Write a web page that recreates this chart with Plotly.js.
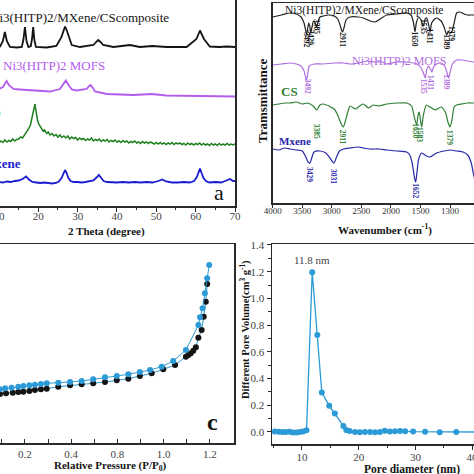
<!DOCTYPE html>
<html><head><meta charset="utf-8">
<script src="https://cdn.plot.ly/plotly-3.0.1.min.js"></script>
<style>
html,body{margin:0;padding:0;width:474px;height:474px;overflow:hidden;background:#fff;}
#chart{position:absolute;left:-40px;top:-20px;width:560px;height:500px;}
</style></head><body><div id="chart"></div>
<script>
// ---------- (a) XRD ----------
const xrdCompTheta = [5,7,9,10.3,11,11.5,12,12.8,14.5,15.8,16.2,16.6,17.0,17.5,18.1,18.4,18.7,19.0,19.4,22.1,24.6,25.9,26.4,26.8,27.2,27.6,28.5,30.6,34.0,34.7,35.2,35.8,36.5,39.1,43.3,45.8,49,52.6,57.7,60.2,61.1,62.1,63.6,66,68,70];
const xrdComp      = [160,160,159,159.5,165,174,165,159,158.5,159,166,179,165,159,160,167,179,166,159,158.5,160,169,175,179.5,176,171,161,159,161,164,166,164,161,159,161,159,160,159,159,167,175.5,167,159.5,159,159.5,159];
const xrdMofTheta = [5,8,10,11,11.5,11.95,12.5,13.65,15.3,18.7,23.0,25.5,26.3,27.0,27.7,28.5,29.75,32.3,32.8,33.3,33.9,34.4,37.4,44.2,48.8,52.6,61.1,69.6,70];
const xrdMof      = [117,117,117,119,123,125,121,117,116.5,115.5,114.5,117,121,125.5,121,116.5,115.5,117,119.5,121,118,114.5,112,111,112,110.5,110,109.5,109.5];
const xrdCsTheta = [5,5.5,6,6.5,7,7.5,8,8.5,9,9.5,10,10.5,11,11.5,12,12.5,13,13.5,14,14.5,15,15.5,16,16.5,17,17.5,18,18.3,18.6,18.9,19.15,19.4,19.6,19.8,20.1,20.5,20.85,21.2,21.6,22.1,22.5,23,23.5,24,24.5,25,25.5,26,26.5,27,27.5,28,28.5,29,29.5,30,30.5,31,31.5,32,32.5,33,33.5,34,34.5,35,35.5,36,36.5,37,37.5,38,38.5,39,39.5,40,40.5,41,41.5,42,42.5,43,43.5,44,44.5,45,45.5,46,46.5,47,47.5,48,48.5,49,49.5,50,50.5,51,51.5,52,52.5,53,53.5,54,54.5,55,55.5,56,56.5,57,57.5,58,58.5,59,59.5,60,60.5,61,61.5,62,62.5,63,63.5,64,64.5,65,65.5,66,66.5,67,67.5,68,68.5,69,69.5,70];
const xrdCs      = [63,65,62,64,61.5,64.5,63,65.5,62.5,64,63,65,63.5,66,64,65.5,64.5,67,65,66.5,67,69,68,71,73,77,81,86,91,97,102,95,89,86,82,79,77,75,76,72.5,74,71,72.5,70,71.5,69,71,68.5,70,68,70,67,69,67.5,68.5,66,68,66.5,67.5,65.5,67,66,68,65,66.5,65.5,67,64.5,66,65,66.5,64,65.5,64.5,66,64,65,63.5,65.5,64,65,63,64.5,63.5,65,63,64,62.5,64.5,63,64,62.5,64,63,62,63.5,62,63.5,62,63,61.5,63,62,63.5,61.5,63,62,63,61.5,62.5,61,63,61.5,62.5,61,62.5,61.5,63,61,62.5,61,62,60.5,62.5,61,62,60.5,62.5,61,62,61,62.5,61,62,61,62];
const xrdMxTheta = [5,6,7,8,9,10,11,12,13,14,15,16,16.9,17.6,18.5,19.5,20.5,21.5,22.5,23.5,24.5,25.2,25.9,26.4,26.8,27.2,27.6,28.2,29,30,31,32,33,34,34.8,35.4,36,36.6,37.5,38.5,40,41.5,43,44.5,46,47.5,49,50.5,51.5,52.5,54,55.5,57,58.5,59.6,60.3,60.7,61.1,61.5,62,62.6,63.5,65,66.5,67.5,68.7,69.5,70];
const xrdMx      = [24,23.5,24.5,24,23,24,23.5,24.5,24,25,25.5,27,29.5,26.5,24,23.5,23,23.5,23,22.5,23,24.5,28,33,36,33,28.5,25,24,24,23.5,24,24.5,25.5,28.5,31,28,25,24,23.5,23.5,24,23.5,24,23.5,24,23.5,25,26.5,24.5,23.5,23.5,24,23.5,25,29,34,37.5,33,28,25,23.5,24,23.5,25,27,25,25];

// ---------- (b) FTIR (x in axis units of the printed wavenumber scale) ----------
const ftirCompX = [4000,3850,3707,3600,3520,3470,3440,3425,3405,3390,3370,3357,3335,3310,3280,3256,3230,3200,3144,3050,2960,2900,2860,2830,2816,2790,2760,2692,2550,2467,2350,2269,2180,2071,1900,1733,1660,1620,1592,1570,1530,1490,1452,1420,1395,1360,1338,1310,1260,1225,1150,1100,1056,1030,1010,971,930,887,831,760,700,606,500,300,0];
const ftirComp  = [186,188,190,189,186,180,172,168,176,180,176,170,176,182,180,176,182,186,187,188,187,184,178,172,171,176,183,186,186,185,182,181,184,188,189,190,188,181,171,180,186,183,177,184,185,178,171,180,184,185,182,176,168,172,170,171,180,190,191,189,188,188,187,187,187];
const ftirMofX = [4000,3850,3707,3600,3520,3470,3440,3425,3405,3380,3300,3144,2960,2800,2692,2550,2400,2269,2150,2071,1900,1733,1620,1560,1500,1450,1418,1395,1365,1330,1305,1280,1225,1150,1090,1050,1028,1000,960,887,800,700,606,400,0];
const ftirMof  = [138,139,140,139,137,132,125,123,130,137,139,139,140,140,139,140,142,141,141,139,141,141,140,139,136,130,125,133,137,134,131,136,139,140,137,130,125,130,139,143,143,142,141,141,141];
const ftirCsX = [4000,3900,3800,3707,3600,3500,3400,3300,3256,3200,3144,3050,2960,2900,2840,2805,2770,2720,2692,2600,2550,2467,2380,2300,2200,2071,1900,1733,1650,1600,1564,1540,1520,1500,1479,1450,1400,1338,1250,1150,1080,1030,1000,970,930,887,800,700,606,400,0];
const ftirCs  = [98,99,100,100,101,99,100,96,93,98,99,97,94,88,79,76,82,93,97,94,96,99,95,98,97,99,100,100,97,85,78,88,91,83,76,88,98,96,93,96,91,80,76,82,96,98,99,100,100,100,100];
const ftirMxX = [4000,3900,3800,3707,3600,3500,3440,3400,3369,3340,3300,3200,3100,3020,2963,2920,2870,2800,2692,2550,2467,2350,2200,2071,1900,1733,1680,1640,1600,1580,1560,1530,1479,1400,1338,1225,1100,1000,887,780,700,640,606,560,500,300,0];
const ftirMx  = [54,53,55,54,53,52,46,41,40,45,51,52,50,44,40,46,52,54,55,56,55,54,54,53,52,51,48,40,25,21,30,44,50,47,46,50,52,53,52,51,48,40,30,20,15,15,15];
const ftirTickVals = [4000,3500,3000,2500,2000,1500,1000];
const ftirTickText = ['4000','3500','3000','2500','2000','1500','1300'];
const peakCompText = ['3492','3429','3385','2911','1650','1535','1431','1389','1379'];
const peakCompX    = [3425,3352,3250,2816,1584,1440,1330,1056,966];
const peakMofText  = ['3492','1535','1431','1389'];
const peakMofX     = [3398,1435,1322,1056];
const peakCsText   = ['3385','2911','1650','1583','1379'];
const peakCsX      = [3245,2805,1580,1508,1000];
const peakMxText   = ['3429','3031','1652'];
const peakMxX      = [3369,2963,1580];

// ---------- (c) N2 isotherm ----------
const pressAds = [0.092,0.114,0.142,0.171,0.193,0.219,0.243,0.269,0.294,0.344,0.395,0.445,0.495,0.546,0.597,0.647,0.697,0.741,0.791,0.841,0.896,0.950,0.957,0.968,0.978,0.988,0.997];
const volAds   = [53.7,54.7,55.3,56.3,57,57.7,58.3,59,59.7,60.3,61,62,63.7,65.7,67,68.7,71,73,76.3,82,93,118,125.7,134.7,149.7,164.7,178];
const pressDes = [0.092,0.118,0.147,0.171,0.193,0.219,0.243,0.269,0.294,0.344,0.395,0.445,0.495,0.546,0.597,0.647,0.697,0.748,0.798,0.849,0.896,0.907,0.917,0.928,0.939,0.950,0.964,0.973,0.982,0.988];
const volDes   = [49,49.7,50.3,51,51.3,52,53,53.7,54.3,56.3,57.7,58.7,59.7,61,62.7,64.3,67,69.7,73.7,78,86.3,88,89.7,92.3,95.7,105.3,113,126.3,141.3,159];
const pressTickVals = [0.2,0.4,0.6,0.8,1.0];
const pressTickText = ['0.2','0.4','0.8','1.0','1.2'];

// ---------- (d) pore size distribution ----------
const poreDiam = [5.2,5.9,6.5,7.1,7.8,8.4,9.0,9.6,10.2,10.8,11.8,12.7,13.5,14.8,15.8,17.3,17.8,18.4,19.35,20.2,21.1,22.0,22.9,23.75,24.6,25.5,26.4,27.3,28.2,29.6,31.7,34.3,37.2,41.0];
const poreVol  = [0.003,0.002,0.0,0.0,0.002,-0.003,-0.004,0.0,0.004,0.012,1.195,0.725,0.295,0.197,0.138,0.045,0.015,0.008,0.0,-0.002,-0.001,0.0,-0.002,-0.001,0.01,0.004,0.005,0.007,0.005,0.003,0.002,-0.002,0.0,0.0];

// ---------- colours ----------
const BLACK='#141414', PURPLE='#b25cf0', GREEN='#1e801e', BLUE='#1a1ad0';
const PURPLE_B='#b06ee0', GREEN_B='#2f7f34', BLUE_B='#2828a8';
const CYAN='#2b9ad6';
const SERIF='Liberation Serif, Times New Roman, serif';

// page pixel -> paper fraction
const OX=40, OY=20, W=560, H=500;
const px = X => (X+OX)/W;
const py = Y => 1-(Y+OY)/H;

const traces = [
  {x:xrdCompTheta,y:xrdComp,mode:'lines',line:{color:BLACK,width:1.8},xaxis:'x',yaxis:'y'},
  {x:xrdMofTheta,y:xrdMof,mode:'lines',line:{color:PURPLE,width:1.8},xaxis:'x',yaxis:'y'},
  {x:xrdCsTheta,y:xrdCs,mode:'lines',line:{color:GREEN,width:1.5},xaxis:'x',yaxis:'y'},
  {x:xrdMxTheta,y:xrdMx,mode:'lines',line:{color:BLUE,width:1.8},xaxis:'x',yaxis:'y'},
  {x:ftirCompX,y:ftirComp,mode:'lines',line:{color:'#222',width:1.2,shape:'spline',smoothing:0.6},xaxis:'x2',yaxis:'y2'},
  {x:ftirMofX,y:ftirMof,mode:'lines',line:{color:PURPLE_B,width:1.2,shape:'spline',smoothing:0.6},xaxis:'x2',yaxis:'y2'},
  {x:ftirCsX,y:ftirCs,mode:'lines',line:{color:GREEN_B,width:1.2,shape:'spline',smoothing:0.6},xaxis:'x2',yaxis:'y2'},
  {x:ftirMxX,y:ftirMx,mode:'lines',line:{color:BLUE_B,width:1.2,shape:'spline',smoothing:0.6},xaxis:'x2',yaxis:'y2'},
  {x:pressDes,y:volDes,mode:'lines+markers',line:{color:CYAN,width:1},marker:{color:BLACK,size:6},xaxis:'x3',yaxis:'y3'},
  {x:pressAds,y:volAds,mode:'lines+markers',line:{color:CYAN,width:1},marker:{color:CYAN,size:6},xaxis:'x3',yaxis:'y3'},
  {x:poreDiam,y:poreVol,mode:'lines+markers',line:{color:CYAN,width:1.3},marker:{color:CYAN,size:6},xaxis:'x4',yaxis:'y4'}
];

const axBase = {showgrid:false,zeroline:false,showline:true,linecolor:'#2a2a2a',linewidth:1.5,mirror:true,tickcolor:'#2a2a2a',tickfont:{family:SERIF,size:11,color:'#444'}};

const annotations = [];
function ann(X,Y,text,opt){annotations.push(Object.assign({xref:'paper',yref:'paper',x:px(X),y:py(Y),text:text,showarrow:false,xanchor:'left',yanchor:'middle',font:{family:SERIF,size:12,color:BLACK}},opt||{}));}

// (a) labels
ann(-12,17.5,'Ni3(HITP)2/MXene/CScomposite',{font:{family:SERIF,size:13,color:BLACK}});
ann(1,66,'Ni3(HITP)2 MOFS',{font:{family:SERIF,size:13,color:PURPLE}});
ann(3,111,'<b>CS</b>',{xanchor:'right',font:{family:SERIF,size:13,color:GREEN}});
ann(23,163.5,'<b>Mxene</b>',{xanchor:'right',font:{family:SERIF,size:13,color:BLUE}});
ann(219,193,'a',{xanchor:'center',font:{family:SERIF,size:22,color:BLACK}});
ann(106,231,'<b>2 Theta (degree)</b>',{xanchor:'center',font:{family:SERIF,size:11,color:BLACK}});
// (b) labels
ann(283,10,'Ni3(HITP)2/MXene/CScomposite',{font:{family:SERIF,size:11.5,color:BLACK}});
ann(350,61,'Ni3(HITP)2 MOFS',{font:{family:SERIF,size:12,color:PURPLE_B}});
ann(279,92,'<b>CS</b>',{font:{family:SERIF,size:13,color:GREEN_B}});
ann(277,141,'<b>Mxene</b>',{font:{family:SERIF,size:11,color:BLUE_B}});
ann(262,101,'<b>Tramsmittance</b>',{xanchor:'center',textangle:-90,font:{family:SERIF,size:13,color:BLACK}});
ann(385,229,'<b>Wavenumber (cm<sup>-1</sup>)</b>',{xanchor:'center',font:{family:SERIF,size:11,color:BLACK}});
function peaks(xs,texts,yv,color){xs.forEach((x,i)=>annotations.push({xref:'x2',yref:'y2',x:x,y:yv[i],text:'<b>'+texts[i]+'</b>',textangle:90,showarrow:false,xanchor:'center',yanchor:'middle',font:{family:SERIF,size:7.5,color:color}}));}
peaks(peakCompX,peakCompText,[163,166,177,163,164,176,167,161,170],BLACK);
peaks(peakMofX,peakMofText,[117,117,120,121],PURPLE_B);
peaks(peakCsX,peakCsText,[72,66,72,68,66],GREEN_B);
peaks(peakMxX,peakMxText,[28,26,12],BLUE_B);
// (c) labels
ann(212,422,'<b>c</b>',{xanchor:'center',font:{family:SERIF,size:24,color:BLACK}});
ann(110,466,'<b>Relative Pressure (P/P<sub>0</sub>)</b>',{xanchor:'center',font:{family:SERIF,size:11,color:BLACK}});
// (d) labels
annotations.push({xref:'x4',yref:'y4',x:11.8,y:1.29,text:'11.8 nm',showarrow:false,xanchor:'center',yanchor:'middle',font:{family:SERIF,size:11,color:'#444'}});
ann(245,330,'<b>Different Pore Volume(cm<sup>3</sup> g<sup>-1</sup>)</b>',{xanchor:'center',textangle:-90,font:{family:SERIF,size:10.5,color:BLACK}});
ann(412,469,'<b>Pore diameter (nm)</b>',{xanchor:'center',font:{family:SERIF,size:11.5,color:BLACK}});

const layout = {
  width:W,height:H,margin:{l:0,r:0,t:0,b:0},paper_bgcolor:'#fff',plot_bgcolor:'#fff',showlegend:false,
  font:{family:SERIF},
  xaxis:Object.assign({},axBase,{domain:[px(-20.7),px(235)],range:[5,70],anchor:'y',ticks:'outside',ticklen:4,tick0:0,dtick:10,ticklabelstandoff:-5,
    minor:{ticks:'outside',ticklen:2.5,dtick:5,tick0:0,tickcolor:'#2a2a2a'}}),
  yaxis:Object.assign({},axBase,{domain:[py(206),py(-15)],range:[0,221],anchor:'x',ticks:'',showticklabels:false}),
  xaxis2:Object.assign({},axBase,{domain:[px(272.7),px(514)],range:[4000,-83],anchor:'y2',ticks:'outside',ticklen:3,ticklabelstandoff:-4,tickmode:'array',tickvals:ftirTickVals,ticktext:ftirTickText,tickfont:{family:SERIF,size:9,color:'#333'}}),
  yaxis2:Object.assign({},axBase,{domain:[py(203),py(3)],range:[0,200],anchor:'x2',ticks:'',showticklabels:false}),
  xaxis3:Object.assign({},axBase,{domain:[px(-21.25),px(234)],range:[0,1.104],anchor:'y3',ticks:'inside',ticklen:4,tickmode:'array',tickvals:pressTickVals,ticktext:pressTickText,
    minor:{ticks:'inside',ticklen:4,tickmode:'array',tickvals:[0.1,0.3,0.5,0.7,0.9,1.1],tickcolor:'#2a2a2a'}}),
  yaxis3:Object.assign({},axBase,{domain:[py(443),py(244)],range:[0,199],anchor:'x3',ticks:'',showticklabels:false}),
  xaxis4:Object.assign({},axBase,{domain:[px(272),px(514)],range:[4.71,47.39],anchor:'y4',ticks:'outside',ticklen:4,tick0:0,dtick:10,ticklabelstandoff:-2,
    minor:{ticks:'outside',ticklen:2.5,dtick:5,tick0:0,tickcolor:'#2a2a2a'}}),
  yaxis4:Object.assign({},axBase,{domain:[py(444),py(244)],range:[-0.09,1.407],anchor:'x4',ticks:'outside',ticklen:4,tick0:0,dtick:0.2,tickformat:'.1f',
    minor:{ticks:'outside',ticklen:2.5,dtick:0.1,tick0:0,tickcolor:'#2a2a2a'}}),
  annotations:annotations
};
Plotly.newPlot('chart',traces,layout,{staticPlot:true,displayModeBar:false});
</script></body></html>
